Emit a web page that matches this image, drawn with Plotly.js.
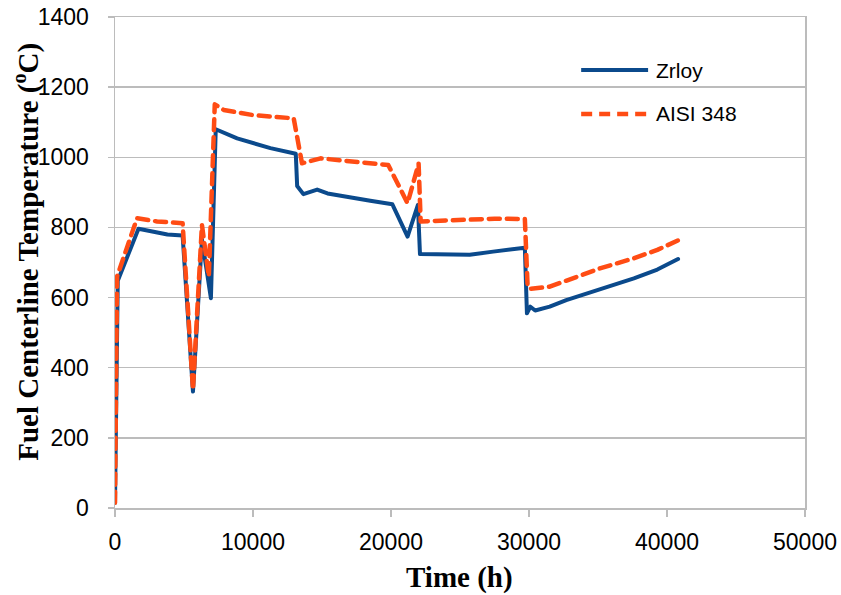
<!DOCTYPE html>
<html>
<head>
<meta charset="utf-8">
<script src="https://cdn.plot.ly/plotly-3.0.1.min.js"></script>
<style>
html,body{margin:0;padding:0;background:#fff;}
#chart{width:841px;height:595px;}
.scatterlayer .js-line{stroke-linecap:round;stroke-linejoin:round;}
</style>
</head>
<body>
<div id="chart"></div>
<script>
// Time (h) and fuel centerline temperature (°C)
const zrloyTime = [0, 200, 1700, 3800, 4900, 5650, 6300, 6950, 7300, 8850, 11260, 13100, 13200, 13650, 14650, 15400, 18500, 20100, 21200, 21950, 22100, 23300, 25700, 27400, 29700, 29850, 30100, 30450, 31500, 32700, 35200, 37600, 39300, 40800];
const zrloyTemp = [15, 648, 796, 780, 777, 332, 766, 598, 1080, 1054, 1026, 1010, 918, 895, 908, 897, 876, 866, 774, 864, 724, 724, 722, 731, 742, 555, 574, 563, 574, 593, 624, 655, 680, 710];

const aisiTime = [0, 150, 1350, 1600, 3050, 4900, 5650, 6300, 6800, 7230, 7880, 10050, 12950, 13550, 14900, 17300, 19800, 21200, 22000, 22150, 25900, 27500, 29700, 29900, 30100, 31500, 35200, 37600, 39300, 40800];
const aisiTemp = [15, 660, 798, 826, 817, 812, 337, 807, 660, 1151, 1135, 1120, 1111, 983, 997, 987, 978, 869, 982, 817, 822, 825, 824, 631, 625, 631, 684, 712, 736, 763];

const seriesNames = ["Zrloy", "AISI 348"];
const xTicks = [0, 10000, 20000, 30000, 40000, 50000];
const yTicks = [0, 200, 400, 600, 800, 1000, 1200, 1400];

const blue = "#0b4a8c";
const orange = "#ff4c14";

const traces = [
  {x: zrloyTime, y: zrloyTemp, type: "scatter", mode: "lines", name: seriesNames[0],
   line: {color: blue, width: 4}},
  {x: aisiTime, y: aisiTemp, type: "scatter", mode: "lines", name: seriesNames[1],
   line: {color: orange, width: 4.5, dash: "11px,7px"}}
];

const grid = "#bcbcbc";
const layout = {
  width: 841, height: 595,
  margin: {l: 114.5, r: 36, t: 17, b: 86.5},
  paper_bgcolor: "#fff", plot_bgcolor: "#fff",
  showlegend: false,
  xaxis: {
    range: [0, 50000], tickvals: xTicks, ticktext: xTicks.map(String),
    showgrid: false, zeroline: false,
    showline: true, linecolor: grid, linewidth: 1.5, mirror: true,
    ticks: "outside", ticklen: 7, tickcolor: grid, tickwidth: 1.5,
    ticklabelstandoff: 6,
    tickfont: {family: "Liberation Sans, Arial, sans-serif", size: 23, color: "#000"}
  },
  yaxis: {
    range: [0, 1400], tickvals: yTicks, ticktext: yTicks.map(String),
    showgrid: true, gridcolor: grid, gridwidth: 1.5, zeroline: false,
    showline: true, linecolor: grid, linewidth: 1.5, mirror: true,
    ticks: "outside", ticklen: 6, tickcolor: grid, tickwidth: 1.5,
    ticklabelstandoff: 14,
    tickfont: {family: "Liberation Sans, Arial, sans-serif", size: 23, color: "#000"}
  },
  shapes: [
    {type: "line", xref: "paper", yref: "paper", x0: 0.6756, x1: 0.7726, y0: 0.892, y1: 0.892,
     line: {color: blue, width: 4}},
    {type: "line", xref: "paper", yref: "paper", x0: 0.6756, x1: 0.7726, y0: 0.8026, y1: 0.8026,
     line: {color: orange, width: 4.5, dash: "11px,7px"}}
  ],
  annotations: [
    {xref: "paper", yref: "paper", x: 0.781, y: 0.892, xanchor: "left", yanchor: "middle",
     text: seriesNames[0], showarrow: false,
     font: {family: "Liberation Sans, Arial, sans-serif", size: 21, color: "#000"}},
    {xref: "paper", yref: "paper", x: 0.781, y: 0.8026, xanchor: "left", yanchor: "middle",
     text: seriesNames[1], showarrow: false,
     font: {family: "Liberation Sans, Arial, sans-serif", size: 21, color: "#000"}},
    {xref: "paper", yref: "paper", x: 0.4993, y: -0.1414, xanchor: "center", yanchor: "middle",
     text: "<b>Time (h)</b>", showarrow: false,
     font: {family: "Liberation Serif, Times New Roman, serif", size: 29, color: "#000"}},
    {xref: "paper", yref: "paper", x: -0.1282, y: 0.5209, xanchor: "center", yanchor: "middle",
     textangle: -90, text: "<b>Fuel Centerline Temperature (<sup>o</sup>C)</b>", showarrow: false,
     font: {family: "Liberation Serif, Times New Roman, serif", size: 29, color: "#000"}}
  ]
};

Plotly.newPlot("chart", traces, layout, {displayModeBar: false, staticPlot: true});
</script>
</body>
</html>
